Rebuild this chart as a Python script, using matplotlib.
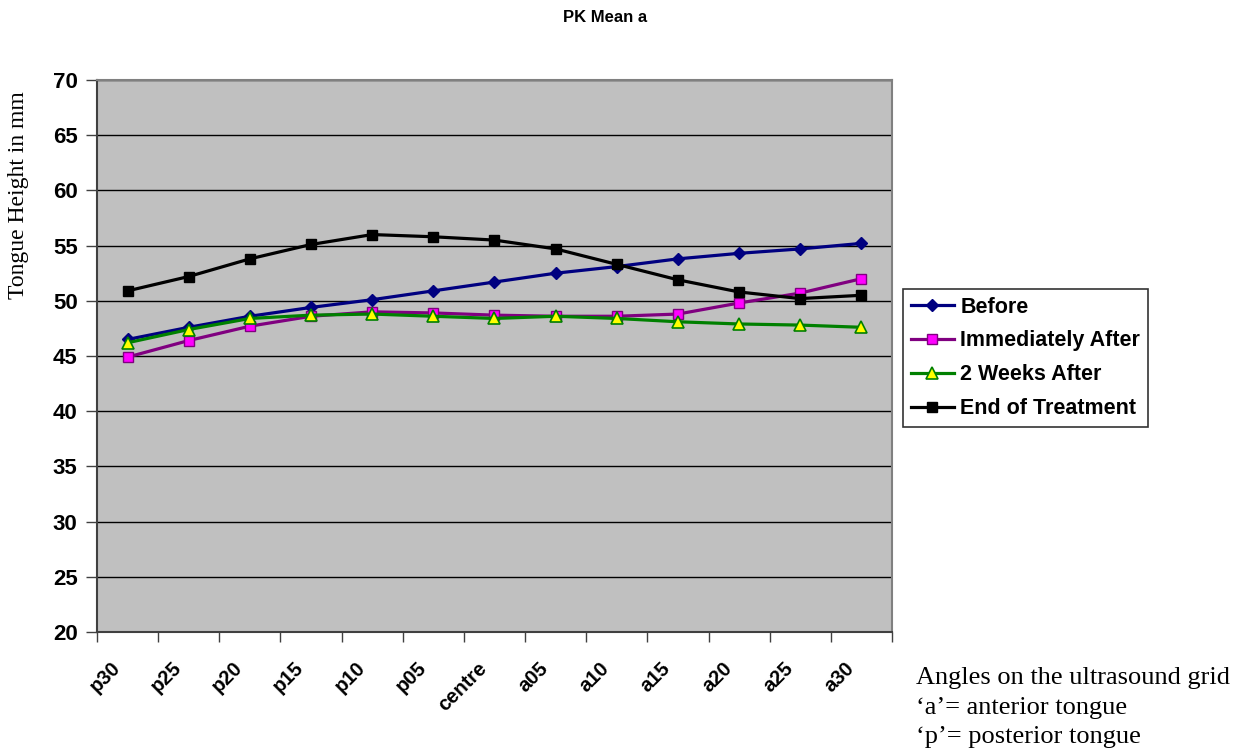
import matplotlib
matplotlib.use("Agg")
import matplotlib.pyplot as plt
import matplotlib.transforms as mtransforms
import numpy as np

categories = ["p30", "p25", "p20", "p15", "p10", "p05", "centre",
              "a05", "a10", "a15", "a20", "a25", "a30"]

before = [46.5, 47.6, 48.6, 49.4, 50.1, 50.9, 51.7, 52.5, 53.1, 53.8, 54.3, 54.7, 55.2]
immediately_after = [44.9, 46.4, 47.7, 48.6, 49.0, 48.9, 48.7, 48.6, 48.6, 48.8, 49.8, 50.7, 52.0]
two_weeks_after = [46.2, 47.4, 48.4, 48.7, 48.8, 48.6, 48.4, 48.6, 48.4, 48.1, 47.9, 47.8, 47.6]
end_of_treatment = [50.9, 52.2, 53.8, 55.1, 56.0, 55.8, 55.5, 54.7, 53.3, 51.9, 50.8, 50.2, 50.5]

sans = "Liberation Sans"
serif = "Liberation Serif"

fig = plt.figure(figsize=(12.44, 7.52), dpi=100)
ax = fig.add_axes([0.078, 0.1596, 0.639, 0.734])
ax.set_facecolor("#C0C0C0")

x = np.arange(len(categories))
ax.plot(x, before, color="#000080", lw=2.3, marker="D", ms=6.5,
        mfc="#000080", mec="#000080", label="Before", zorder=3)
ax.plot(x, immediately_after, color="#800080", lw=2.3, marker="s", ms=7.5,
        mfc="#FF00FF", mec="#800080", mew=1, label="Immediately After", zorder=3)
ax.plot(x, two_weeks_after, color="#008000", lw=2.3, marker="^", ms=8,
        mfc="#FFFF00", mec="#008000", mew=1.2, label="2 Weeks After", zorder=3)
ax.plot(x, end_of_treatment, color="black", lw=2.3, marker="s", ms=7.5,
        mfc="black", mec="black", label="End of Treatment", zorder=3)

ax.set_xlim(-0.5, len(categories) - 0.5)
ax.set_ylim(20, 70)
ax.set_yticks(np.arange(20, 71, 5))
ax.yaxis.grid(True, color="black", lw=1)
ax.set_axisbelow(True)

# tick marks between categories, labels at category centres
ax.set_xticks(np.arange(-0.5, len(categories), 1.0))
ax.set_xticklabels([])
ax.set_xticks(x, minor=True)
ax.set_xticklabels(categories, minor=True, rotation=45, ha="right", va="top",
                   rotation_mode="anchor", fontsize=14.5, fontweight="bold",
                   family=sans)
ax.tick_params(axis="x", which="minor", length=0, pad=19)
offset = mtransforms.ScaledTranslation(-0.17, 0, fig.dpi_scale_trans)
for lab in ax.get_xticklabels(minor=True):
    lab.set_transform(lab.get_transform() + offset)
ax.tick_params(axis="x", which="major", length=7, width=1, color="#404040")
ax.tick_params(axis="y", length=8, width=1, color="#404040", pad=6)
for lab in ax.get_yticklabels():
    lab.set_fontsize(16)
    lab.set_fontweight("bold")
    lab.set_family(sans)

for side in ["top", "right"]:
    ax.spines[side].set_color("#808080")
    ax.spines[side].set_linewidth(1.5)
for side in ["left", "bottom"]:
    ax.spines[side].set_color("#404040")
    ax.spines[side].set_linewidth(1.5)

fig.text(0.486, 0.977, "PK Mean a", ha="center", va="center",
         fontsize=12, fontweight="bold", family=sans)
fig.text(0.015, 0.741, "Tongue Height in mm", rotation=90, ha="center",
         va="center", fontsize=17, family=serif)

leg = ax.legend(loc="upper left", bbox_to_anchor=(0.726, 0.6157),
                bbox_transform=fig.transFigure, frameon=True, fancybox=False,
                edgecolor="black", handlelength=2.0, handletextpad=0.3,
                borderpad=0.35, labelspacing=0.6, borderaxespad=0,
                prop={"family": sans, "weight": "bold", "size": 15.5})
leg.get_frame().set_linewidth(1.2)

fig.text(0.736, 0.059, "Angles on the ultrasound grid\n\u2018a\u2019= anterior tongue\n\u2018p\u2019= posterior tongue",
         ha="left", va="center", fontsize=19, family=serif, linespacing=1.43)

fig.savefig("out.png", dpi=100)
